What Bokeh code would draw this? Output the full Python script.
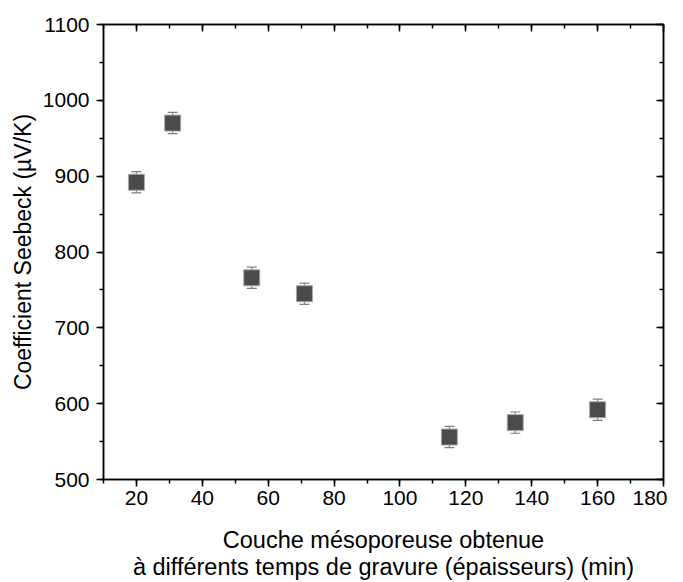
from bokeh.plotting import figure
from bokeh.models import LinearAxis, Range1d, ColumnDataSource, Whisker, TeeHead, FixedTicker
from bokeh.embed import file_html
from bokeh.resources import INLINE

time_min = [20, 31, 55, 71, 115, 135, 160]
seebeck = [892, 970, 766, 745, 556, 575, 592]
err = [14, 14, 14, 14, 14, 14, 14]

x_ticks = [20, 40, 60, 80, 100, 120, 140, 160, 180]
y_ticks = [500, 600, 700, 800, 900, 1000, 1100]

src = ColumnDataSource(dict(x=time_min, y=seebeck,
                            lo=[v - e for v, e in zip(seebeck, err)],
                            hi=[v + e for v, e in zip(seebeck, err)]))

FONT = "Liberation Sans"

p = figure(width=667, height=582, output_backend="svg", toolbar_location=None,
           x_range=Range1d(10, 180), y_range=Range1d(500, 1100),
           min_border_left=103, min_border_right=4, min_border_top=24, min_border_bottom=102)
p.grid.visible = False
p.outline_line_color = "black"
p.outline_line_width = 1.5
p.background_fill_color = "white"
p.border_fill_color = "white"

def style(ax, ticks, minor, labels=True, inward=False):
    ax.ticker = FixedTicker(ticks=ticks, minor_ticks=minor)
    ax.axis_line_color = "black"
    ax.axis_line_width = 1.5
    ax.major_tick_line_width = 1.5
    ax.minor_tick_line_width = 1.5
    if inward:
        ax.major_tick_in = 7
        ax.major_tick_out = 0
        ax.minor_tick_in = 4
        ax.minor_tick_out = 0
    else:
        ax.major_tick_in = 0
        ax.major_tick_out = 7
        ax.minor_tick_in = 0
        ax.minor_tick_out = 4
    ax.major_label_text_font = FONT
    ax.major_label_text_font_size = "21px"
    ax.major_label_text_color = "black"
    ax.axis_label_text_font = FONT
    ax.axis_label_text_font_size = "23.5px"
    ax.axis_label_text_font_style = "normal"
    ax.axis_label_text_color = "black"
    ax.axis_label_text_line_height = 1.05
    if not labels:
        ax.major_label_text_font_size = "1px"
        ax.major_label_text_color = None
        ax.major_label_standoff = 0

x_minor = list(range(10, 181, 10))
y_minor = list(range(500, 1101, 50))

style(p.xaxis[0], x_ticks, x_minor)
style(p.yaxis[0], y_ticks, y_minor)
p.xaxis[0].axis_label = "Couche mésoporeuse obtenue\nà différents temps de gravure (épaisseurs) (min)"
p.xaxis[0].axis_label_standoff = 19
p.xaxis[0].major_label_standoff = 4
p.yaxis[0].axis_label = "Coefficient Seebeck (µV/K)"
p.yaxis[0].axis_label_text_font_size = "23px"
p.yaxis[0].axis_label_standoff = 4
p.yaxis[0].major_label_standoff = 7

top = LinearAxis()
style(top, x_ticks, x_minor, labels=False, inward=True)
p.add_layout(top, "above")
right = LinearAxis()
style(right, y_ticks, y_minor, labels=False, inward=True)
p.add_layout(right, "right")

w = Whisker(source=src, base="x", lower="lo", upper="hi", dimension="height",
            line_color="#808080", line_width=1.2,
            upper_head=TeeHead(size=10, line_color="#808080", line_width=1.2),
            lower_head=TeeHead(size=10, line_color="#808080", line_width=1.2))
p.add_layout(w)

p.scatter("x", "y", source=src, marker="square", size=16,
          fill_color="#4a4a4a", line_color="#a8a8a8", line_width=1)

open("out.html", "w").write(file_html(p, INLINE))
